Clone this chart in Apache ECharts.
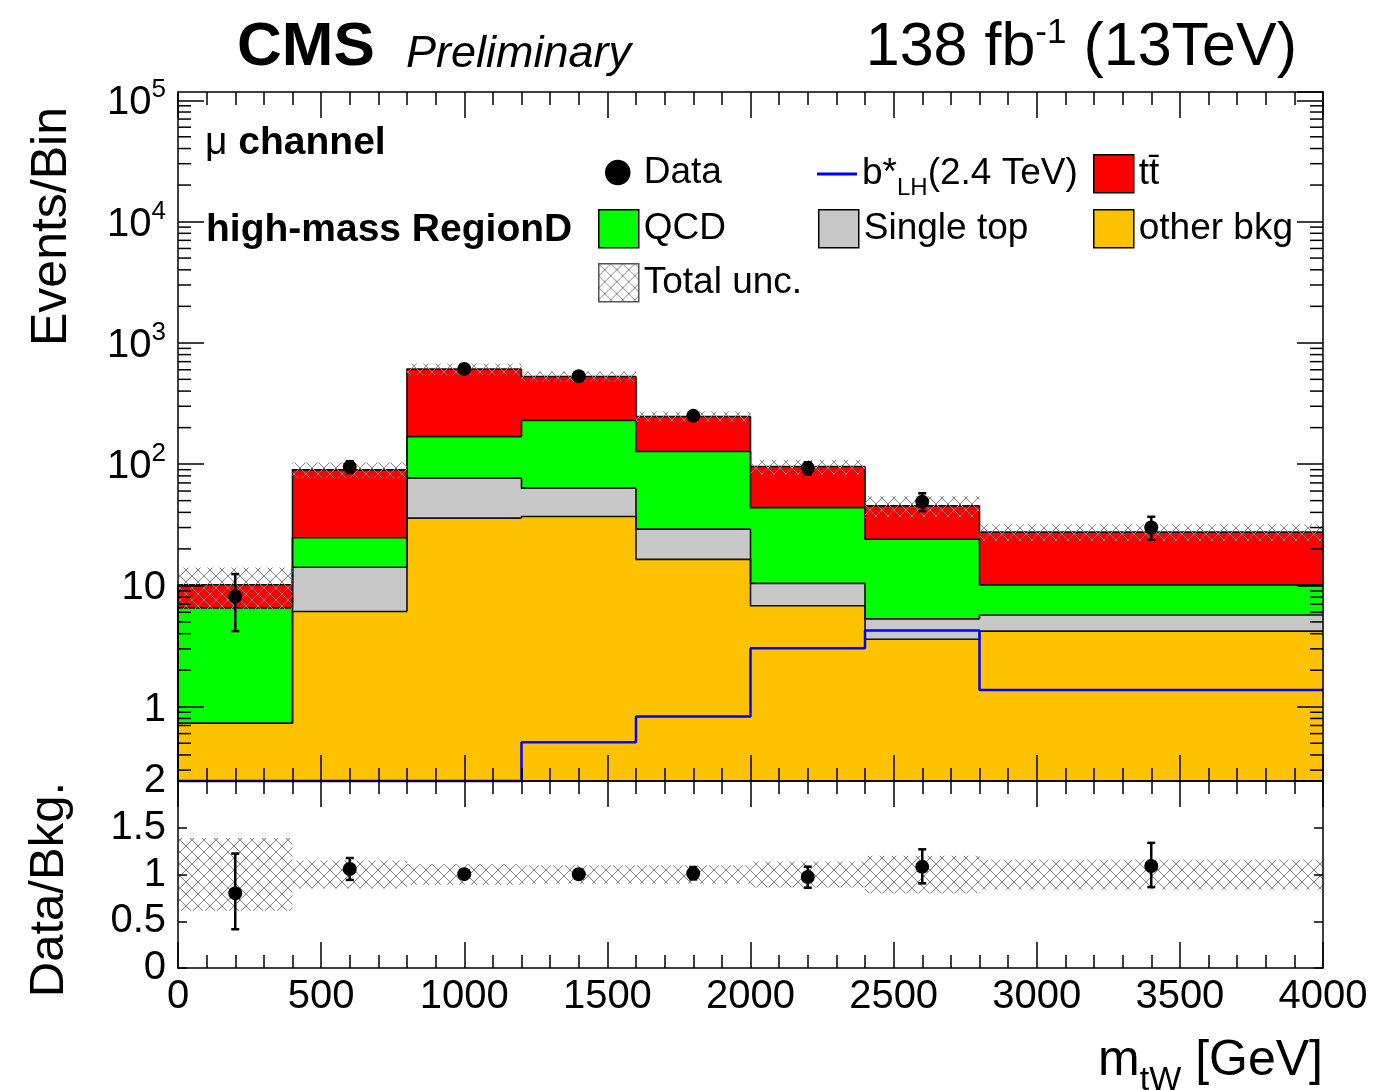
<!DOCTYPE html>
<html lang="en">
<head>
<meta charset="UTF-8">
<title>mtW high-mass RegionD</title>
<script src="https://cdn.jsdelivr.net/npm/echarts@6/dist/echarts.min.js"></script>
<style>
  html, body { margin: 0; padding: 0; background: #fff; }
  #main { width: 1373px; height: 1090px; }
</style>
</head>
<body>
<div id="main"></div>
<script>
// bin edges of m_tW in GeV
var binEdges = [0, 400, 800, 1200, 1600, 2000, 2400, 2800, 4000];
// backgrounds, events per bin, stacked bottom -> top
var otherBkg  = [0.73, 6.1, 35.9, 37.0, 16.4, 6.8, 3.6, 4.2];
var singleTop = [0, 8.0, 40.7, 26.4, 12.7, 3.6, 1.7, 1.5];
var qcd       = [5.8, 10.6, 92, 166, 98, 33.4, 18.7, 4.4];
var ttbar     = [3.6, 65, 439, 299, 120, 51.7, 21.3, 17.4];
// relative total uncertainty on the background sum
var totalUnc  = [0.39, 0.15, 0.11, 0.10, 0.10, 0.14, 0.20, 0.16];
// signal b*_LH (2.4 TeV)
var signal    = [0, 0, 0, 0.51, 0.83, 3.03, 4.24, 1.37];
// observed data and its errors
var dataObs   = [8.1, 95, 610, 530, 250, 93, 49, 30];
var dataErrLo = [3.9, 10.5, 24.7, 23, 15.8, 11, 8, 6.2];
var dataErrHi = [4.3, 10.5, 25.7, 24, 16.8, 10.5, 8.5, 6.8];
// axis ranges
var yMin = 0.244, yMax = 1.17e5;
var ratioMin = 0, ratioMax = 2;

var FONT = '"Liberation Sans", Arial, Helvetica, sans-serif';

function cl(v) { return Math.max(v, yMin); }

var centers = [];
for (var i = 0; i < binEdges.length - 1; i++) centers.push((binEdges[i] + binEdges[i + 1]) / 2);

// cumulative stack
var comps = [otherBkg, singleTop, qcd, ttbar];
var lower = [], upper = [];
var run = centers.map(function () { return 0; });
comps.forEach(function (c) {
    lower.push(run.slice());
    run = run.map(function (v, j) { return v + c[j]; });
    upper.push(run.slice());
});
var totalBkg = run;

// crosshatch pattern (like ROOT 3013)
function makeHatch() {
    var c = document.createElement('canvas');
    c.width = 12; c.height = 12;
    var g = c.getContext('2d');
    g.strokeStyle = '#858585';
    g.lineWidth = 1;
    g.beginPath();
    g.moveTo(0, 0); g.lineTo(12, 12);
    g.moveTo(12, 0); g.lineTo(0, 12);
    g.stroke();
    return c;
}
var hatch = { image: makeHatch(), repeat: 'repeat' };

function rectItem(params, api) {
    var a = api.coord([api.value(0), api.value(3)]);
    var b = api.coord([api.value(1), api.value(2)]);
    return { a: a, b: b };
}

function fillSeries(name, k, color) {
    return {
        name: name, type: 'custom', xAxisIndex: 0, yAxisIndex: 0, z: 2, silent: true,
        itemStyle: { color: color },
        encode: { x: [0, 1], y: [2, 3] },
        data: centers.map(function (c, j) {
            return [binEdges[j], binEdges[j + 1], cl(lower[k][j]), cl(upper[k][j])];
        }),
        renderItem: function (params, api) {
            var r = rectItem(params, api);
            return {
                type: 'rect',
                shape: { x: r.a[0] - 0.5, y: r.a[1], width: r.b[0] - r.a[0] + 1, height: r.b[1] - r.a[1] },
                style: { fill: color }
            };
        }
    };
}

// outlines of the stacked histograms
var outlineData = [];
comps.forEach(function (c, k) {
    for (var j = 0; j < c.length; j++) {
        outlineData.push([binEdges[j], binEdges[j + 1], cl(upper[k][j]), j === 0 ? yMin : cl(upper[k][j - 1])]);
    }
});

function bandSeries(name, xi, yi, rows) {
    return {
        name: name, type: 'custom', xAxisIndex: xi, yAxisIndex: yi, z: 4, silent: true,
        itemStyle: { color: hatch },
        encode: { x: [0, 1], y: [2, 3] },
        data: rows,
        renderItem: function (params, api) {
            var r = rectItem(params, api);
            return {
                type: 'rect',
                shape: { x: r.a[0], y: r.a[1], width: r.b[0] - r.a[0], height: r.b[1] - r.a[1] },
                style: { fill: hatch }
            };
        }
    };
}

function errSeries(xi, yi, rows) {
    return {
        type: 'custom', xAxisIndex: xi, yAxisIndex: yi, z: 6, silent: true,
        encode: { x: 0, y: [1, 2] },
        data: rows,
        renderItem: function (params, api) {
            var lo = api.coord([api.value(0), api.value(1)]);
            var hi = api.coord([api.value(0), api.value(2)]);
            var w = 4, st = { stroke: '#000', lineWidth: 2.5 };
            return {
                type: 'group', children: [
                    { type: 'line', shape: { x1: lo[0], y1: lo[1], x2: hi[0], y2: hi[1] }, style: st },
                    { type: 'line', shape: { x1: lo[0] - w, y1: lo[1], x2: lo[0] + w, y2: lo[1] }, style: st },
                    { type: 'line', shape: { x1: hi[0] - w, y1: hi[1], x2: hi[0] + w, y2: hi[1] }, style: st }
                ]
            };
        }
    };
}

// minor ticks of the log axis (2..9 x 10^k), left and right side
var minorVals = [];
for (var p = -1; p <= 5; p++) {
    for (var m = 2; m <= 9; m++) {
        var v = m * Math.pow(10, p);
        if (v > yMin && v < yMax) minorVals.push([0, v]);
    }
}

var tickLine = { color: '#000', width: 1.5 };

function xAxisCfg(grid, pos, showLabels) {
    return {
        type: 'value', gridIndex: grid, position: pos, min: 0, max: 4000, interval: 500, z: 10,
        axisLine: { show: true, onZero: false, lineStyle: tickLine },
        axisTick: { show: true, inside: true, length: 26, lineStyle: tickLine },
        minorTick: { show: true, splitNumber: 5, length: 13, lineStyle: tickLine },
        splitLine: { show: false },
        axisLabel: {
            show: showLabels, fontSize: 40, color: '#000', margin: 9, fontFamily: FONT,
            formatter: function (v) { return String(v); }
        }
    };
}

function logLabel(v) {
    var e = Math.round(Math.log10(v));
    if (Math.abs(Math.log10(v) - e) > 1e-6) return '';
    if (e === 0) return '{b|1}';
    if (e === 1) return '{b|10}';
    return '{b|10}{s|' + e + '}';
}

function logAxisCfg(pos, showLabels) {
    return {
        type: 'log', logBase: 10, gridIndex: 0, position: pos, min: yMin, max: yMax, z: 10,
        axisLine: { show: true, onZero: false, lineStyle: tickLine },
        axisTick: { show: true, inside: true, length: 26, lineStyle: tickLine },
        splitLine: { show: false },
        axisLabel: {
            show: showLabels, showMinLabel: false, showMaxLabel: false, margin: 12,
            color: '#000', fontFamily: FONT, formatter: logLabel,
            rich: {
                b: { fontSize: 40, lineHeight: 40, padding: [6, 0, 0, 0], fontFamily: FONT, color: '#000' },
                s: { fontSize: 26, lineHeight: 26, padding: [0, 0, 20, 0], fontFamily: FONT, color: '#000' }
            }
        }
    };
}

function ratioAxisCfg(pos, showLabels) {
    return {
        type: 'value', gridIndex: 1, position: pos, min: ratioMin, max: ratioMax, interval: 0.5, z: 10,
        axisLine: { show: true, onZero: false, lineStyle: tickLine },
        axisTick: { show: true, inside: true, length: 9, lineStyle: tickLine },
        splitLine: { show: false },
        axisLabel: { show: showLabels, fontSize: 40, color: '#000', margin: 12, fontFamily: FONT }
    };
}

var legendRich = {
    n: { fontSize: 37, lineHeight: 40, fontFamily: FONT, color: '#000' }
};

function legendAt(name, label, left, cy, w, h, icon, extra) {
    var cfg = {
        data: [name], left: left, top: cy - 20, orient: 'horizontal',
        itemWidth: w, itemHeight: h, padding: 0, itemGap: 0, selectedMode: false,
        icon: icon,
        itemStyle: { borderColor: '#000', borderWidth: 1.5 },
        textStyle: { fontSize: 37, color: '#000', fontFamily: FONT, rich: legendRich },
        formatter: label
    };
    if (extra) for (var key in extra) cfg[key] = extra[key];
    return cfg;
}

var chart = echarts.init(document.getElementById('main'));

var option = {
    animation: false,
    backgroundColor: '#fff',
    grid: [
        { left: 178, right: 50, top: 92, height: 689 },
        { left: 178, right: 50, top: 781, height: 187 }
    ],
    xAxis: [
        xAxisCfg(0, 'bottom', false),
        xAxisCfg(0, 'top', false),
        xAxisCfg(1, 'bottom', true),
        xAxisCfg(1, 'top', false)
    ],
    yAxis: [
        logAxisCfg('left', true),
        logAxisCfg('right', false),
        ratioAxisCfg('left', true),
        ratioAxisCfg('right', false)
    ],
    legend: [
        legendAt('Data', '{n|Data}', 605, 174, 42, 24, 'circle', { top: 174 - 20 }),
        legendAt('bstar', '{n|b*}{sub|LH}{n|(2.4 TeV)}', 817, 174, 40, 3, 'rect', {
            top: 174 - 26,
            symbolKeepAspect: false,
            itemStyle: { borderWidth: 0 },
            textStyle: {
                fontSize: 37, color: '#000', fontFamily: FONT,
                rich: {
                    n: { fontSize: 37, lineHeight: 40, padding: [6, 0, 6, 0], fontFamily: FONT, color: '#000' },
                    sub: { fontSize: 24, lineHeight: 24, padding: [28, 0, 0, 0], fontFamily: FONT, color: '#000' }
                }
            }
        }),
        legendAt('ttbar', '{n|tt\u0304}', 1093, 174, 40, 38, 'rect'),
        legendAt('QCD', '{n|QCD}', 598, 229, 40, 38, 'rect'),
        legendAt('Single top', '{n|Single top}', 818, 229, 40, 38, 'rect'),
        legendAt('other bkg', '{n|other bkg}', 1093, 229, 40, 38, 'rect'),
        legendAt('Total unc.', '{n|Total unc.}', 598, 283, 40, 38, 'rect',
            { itemStyle: { borderColor: '#555', borderWidth: 1.5 } })
    ],
    graphic: [
        { type: 'text', x: 237, y: 48, style: { text: 'CMS', fontSize: 62, fontWeight: 'bold', fontFamily: FONT, fill: '#000', align: 'left', verticalAlign: 'middle' } },
        { type: 'text', x: 406, y: 54, style: { text: 'Preliminary', fontSize: 45, fontStyle: 'italic', fontFamily: FONT, fill: '#000', align: 'left', verticalAlign: 'middle' } },
        { type: 'text', x: 1297, y: 47, style: {
            text: '{b|138 fb}{s|-1}{b| (13TeV)}', align: 'right', verticalAlign: 'middle',
            rich: {
                b: { fontSize: 61, lineHeight: 61, padding: [2, 0, 0, 0], fontFamily: FONT, fill: '#000' },
                s: { fontSize: 35, lineHeight: 35, padding: [0, 0, 28, 0], fontFamily: FONT, fill: '#000' }
            } } },
        { type: 'text', x: 205, y: 143, style: {
            text: '{m|\u03bc }{b|channel}', align: 'left', verticalAlign: 'middle',
            rich: {
                m: { fontSize: 39, fontFamily: FONT, fill: '#000' },
                b: { fontSize: 39, fontWeight: 'bold', fontFamily: FONT, fill: '#000' }
            } } },
        { type: 'text', x: 206, y: 230, style: { text: 'high-mass RegionD', fontSize: 39, fontWeight: 'bold', fontFamily: FONT, fill: '#000', align: 'left', verticalAlign: 'middle' } },
        { type: 'text', x: 52, y: 107, rotation: Math.PI / 2, style: { text: 'Events/Bin', fontSize: 50, fontFamily: FONT, fill: '#000', align: 'right', verticalAlign: 'middle' } },
        { type: 'text', x: 49, y: 782, rotation: Math.PI / 2, style: { text: 'Data/Bkg.', fontSize: 49, fontFamily: FONT, fill: '#000', align: 'right', verticalAlign: 'middle' } },
        { type: 'text', x: 1323, y: 1067, style: {
            text: '{b|m}{s|tW}{b| [GeV]}', align: 'right', verticalAlign: 'middle',
            rich: {
                b: { fontSize: 50, lineHeight: 50, padding: [0, 0, 12, 0], fontFamily: FONT, fill: '#000' },
                s: { fontSize: 34, lineHeight: 34, padding: [28, 0, 0, 0], fontFamily: FONT, fill: '#000' }
            } } }
    ],
    series: [
        fillSeries('other bkg', 0, '#ffc200'),
        fillSeries('Single top', 1, '#c8c8c8'),
        fillSeries('QCD', 2, '#00ff00'),
        fillSeries('ttbar', 3, '#ff0000'),
        {
            type: 'custom', xAxisIndex: 0, yAxisIndex: 0, z: 3, silent: true,
            encode: { x: [0, 1], y: [2, 3] },
            data: outlineData,
            renderItem: function (params, api) {
                var p1 = api.coord([api.value(0), api.value(3)]);
                var p2 = api.coord([api.value(0), api.value(2)]);
                var p3 = api.coord([api.value(1), api.value(2)]);
                return { type: 'polyline', shape: { points: [p1, p2, p3] }, style: { stroke: '#111', lineWidth: 1.6, fill: null } };
            }
        },
        bandSeries('Total unc.', 0, 0, centers.map(function (c, j) {
            return [binEdges[j], binEdges[j + 1], totalBkg[j] * (1 - totalUnc[j]), totalBkg[j] * (1 + totalUnc[j])];
        })),
        {
            name: 'bstar', type: 'line', step: 'end', xAxisIndex: 0, yAxisIndex: 0, z: 5,
            symbol: 'none', silent: true, clip: false,
            lineStyle: { color: '#0000ff', width: 2.5 }, itemStyle: { color: '#0000ff' },
            data: binEdges.map(function (e, j) { return [e, cl(signal[Math.min(j, signal.length - 1)])]; })
        },
        errSeries(0, 0, centers.map(function (c, j) {
            return [c, dataObs[j] - dataErrLo[j], dataObs[j] + dataErrHi[j]];
        })),
        {
            name: 'Data', type: 'scatter', xAxisIndex: 0, yAxisIndex: 0, z: 7, silent: true,
            symbol: 'circle', symbolSize: 14, itemStyle: { color: '#000', opacity: 1 },
            data: centers.map(function (c, j) { return [c, dataObs[j]]; })
        },
        {
            type: 'custom', xAxisIndex: 0, yAxisIndex: 0, z: 10, silent: true,
            encode: { x: 0, y: 1 },
            data: minorVals,
            renderItem: function (params, api) {
                var l = api.coord([binEdges[0], api.value(1)]);
                var r = api.coord([binEdges[binEdges.length - 1], api.value(1)]);
                var st = { stroke: '#000', lineWidth: 1.5 };
                return {
                    type: 'group', children: [
                        { type: 'line', shape: { x1: l[0], y1: l[1], x2: l[0] + 13, y2: l[1] }, style: st },
                        { type: 'line', shape: { x1: r[0] - 13, y1: r[1], x2: r[0], y2: r[1] }, style: st }
                    ]
                };
            }
        },
        // ratio panel
        bandSeries('ratioUnc', 2, 2, centers.map(function (c, j) {
            return [binEdges[j], binEdges[j + 1], 1 - totalUnc[j], 1 + totalUnc[j]];
        })),
        errSeries(2, 2, centers.map(function (c, j) {
            return [c, (dataObs[j] - dataErrLo[j]) / totalBkg[j], (dataObs[j] + dataErrHi[j]) / totalBkg[j]];
        })),
        {
            name: 'ratio', type: 'scatter', xAxisIndex: 2, yAxisIndex: 2, z: 7, silent: true,
            symbol: 'circle', symbolSize: 14, itemStyle: { color: '#000', opacity: 1 },
            data: centers.map(function (c, j) { return [c, dataObs[j] / totalBkg[j]]; })
        }
    ]
};

chart.setOption(option);
</script>
</body>
</html>
